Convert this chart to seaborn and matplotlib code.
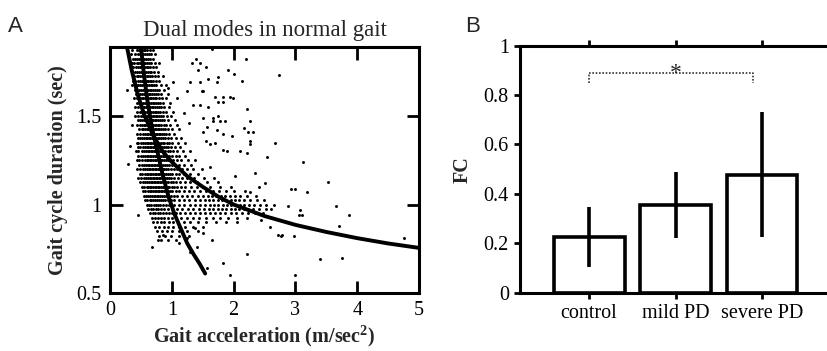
import matplotlib
matplotlib.use("Agg")
import matplotlib.pyplot as plt
import pandas as pd
import seaborn as sns

# ---- panel A: gait data ----
# dense core, one row of dots per quantised cycle duration
core_y = [1.875, 1.85, 1.825, 1.80, 1.775, 1.75, 1.725, 1.70, 1.675, 1.65,
          1.625, 1.60, 1.575, 1.55, 1.525, 1.50, 1.475, 1.45, 1.425, 1.40,
          1.375, 1.35, 1.325, 1.30, 1.275, 1.25, 1.225, 1.20, 1.175, 1.15,
          1.125, 1.10, 1.075, 1.05, 1.025, 1.00, 0.975, 0.95, 0.925, 0.90,
          0.875, 0.85, 0.825, 0.80]
core_x = [
    [0.36, 0.43, 0.47, 0.50, 0.52, 0.55, 0.57, 0.60, 0.64, 0.69],
    [0.34, 0.41, 0.45, 0.49, 0.52, 0.54, 0.57, 0.60, 0.63, 0.67, 0.73],
    [0.37, 0.40, 0.44, 0.47, 0.50, 0.53, 0.55, 0.58, 0.61, 0.65, 0.70],
    [0.35, 0.39, 0.43, 0.46, 0.49, 0.52, 0.55, 0.57, 0.60, 0.63, 0.66, 0.72, 0.80],
    [0.37, 0.42, 0.45, 0.48, 0.51, 0.53, 0.56, 0.59, 0.62, 0.65, 0.69, 0.75],
    [0.36, 0.40, 0.44, 0.47, 0.50, 0.52, 0.55, 0.58, 0.61, 0.64, 0.67, 0.71, 0.78],
    [0.38, 0.43, 0.46, 0.49, 0.52, 0.54, 0.57, 0.60, 0.62, 0.65, 0.68, 0.72, 0.77, 0.86],
    [0.37, 0.41, 0.45, 0.48, 0.51, 0.53, 0.56, 0.59, 0.61, 0.64, 0.67, 0.70, 0.74, 0.80],
    [0.36, 0.42, 0.46, 0.49, 0.52, 0.55, 0.57, 0.60, 0.63, 0.66, 0.68, 0.71, 0.75, 0.82, 0.91],
    [0.40, 0.44, 0.47, 0.50, 0.53, 0.56, 0.58, 0.61, 0.64, 0.66, 0.69, 0.72, 0.76, 0.80, 0.87],
    [0.42, 0.46, 0.49, 0.52, 0.55, 0.58, 0.60, 0.63, 0.65, 0.68, 0.71, 0.74, 0.78, 0.83, 0.93],
    [0.39, 0.44, 0.48, 0.51, 0.54, 0.57, 0.59, 0.62, 0.64, 0.67, 0.70, 0.72, 0.75, 0.79, 0.84, 0.90],
    [0.43, 0.47, 0.50, 0.53, 0.56, 0.58, 0.61, 0.63, 0.66, 0.69, 0.71, 0.74, 0.77, 0.81, 0.86, 0.97],
    [0.41, 0.46, 0.50, 0.53, 0.55, 0.58, 0.60, 0.63, 0.65, 0.68, 0.70, 0.73, 0.76, 0.79, 0.83, 0.88, 0.95],
    [0.44, 0.48, 0.52, 0.55, 0.57, 0.60, 0.62, 0.65, 0.67, 0.70, 0.72, 0.75, 0.78, 0.81, 0.85, 0.91, 1.02],
    [0.40, 0.46, 0.50, 0.53, 0.56, 0.59, 0.61, 0.64, 0.66, 0.69, 0.71, 0.74, 0.76, 0.79, 0.82, 0.86, 0.92, 0.99],
    [0.45, 0.49, 0.52, 0.55, 0.58, 0.60, 0.63, 0.65, 0.68, 0.70, 0.73, 0.75, 0.78, 0.81, 0.84, 0.88, 0.94, 1.05],
    [0.43, 0.48, 0.52, 0.55, 0.57, 0.60, 0.62, 0.65, 0.67, 0.70, 0.72, 0.75, 0.77, 0.80, 0.83, 0.87, 0.91, 0.97, 1.08],
    [0.47, 0.51, 0.54, 0.57, 0.59, 0.62, 0.64, 0.67, 0.69, 0.72, 0.74, 0.77, 0.79, 0.82, 0.85, 0.89, 0.94, 1.01, 1.12],
    [0.44, 0.49, 0.53, 0.56, 0.59, 0.61, 0.64, 0.66, 0.69, 0.71, 0.74, 0.76, 0.79, 0.81, 0.84, 0.87, 0.91, 0.96, 1.04],
    [0.45, 0.48, 0.52, 0.55, 0.58, 0.60, 0.63, 0.65, 0.68, 0.70, 0.73, 0.75, 0.78, 0.80, 0.83, 0.86, 0.89, 0.93, 0.98, 1.06, 1.15],
    [0.43, 0.46, 0.50, 0.54, 0.57, 0.60, 0.62, 0.65, 0.67, 0.70, 0.72, 0.75, 0.77, 0.80, 0.82, 0.85, 0.88, 0.92, 0.96, 1.01, 1.10, 1.22],
    [0.45, 0.49, 0.53, 0.56, 0.59, 0.61, 0.64, 0.66, 0.69, 0.71, 0.74, 0.76, 0.79, 0.81, 0.84, 0.87, 0.90, 0.94, 0.99, 1.05, 1.13],
    [0.42, 0.45, 0.51, 0.55, 0.58, 0.61, 0.63, 0.66, 0.68, 0.71, 0.73, 0.76, 0.78, 0.81, 0.83, 0.86, 0.89, 0.93, 0.97, 1.02, 1.08, 1.18, 1.30],
    [0.46, 0.50, 0.54, 0.57, 0.60, 0.62, 0.65, 0.67, 0.70, 0.72, 0.75, 0.77, 0.80, 0.82, 0.85, 0.88, 0.91, 0.95, 1.00, 1.06, 1.12, 1.22],
    [0.44, 0.47, 0.52, 0.56, 0.59, 0.62, 0.64, 0.67, 0.69, 0.72, 0.74, 0.77, 0.79, 0.82, 0.84, 0.87, 0.90, 0.93, 0.97, 1.02, 1.08, 1.15, 1.26, 1.38],
    [0.47, 0.51, 0.55, 0.58, 0.61, 0.63, 0.66, 0.68, 0.71, 0.73, 0.76, 0.78, 0.81, 0.83, 0.86, 0.89, 0.92, 0.96, 1.00, 1.05, 1.11, 1.19, 1.31],
    [0.44, 0.48, 0.53, 0.57, 0.60, 0.63, 0.65, 0.68, 0.70, 0.73, 0.75, 0.78, 0.80, 0.83, 0.85, 0.88, 0.91, 0.94, 0.98, 1.03, 1.09, 1.16, 1.24, 1.35, 1.48],
    [0.48, 0.52, 0.56, 0.59, 0.62, 0.64, 0.67, 0.69, 0.72, 0.74, 0.77, 0.79, 0.82, 0.84, 0.87, 0.90, 0.93, 0.97, 1.01, 1.06, 1.12, 1.20, 1.29, 1.42],
    [0.46, 0.50, 0.55, 0.58, 0.61, 0.64, 0.66, 0.69, 0.71, 0.74, 0.76, 0.79, 0.81, 0.84, 0.86, 0.89, 0.92, 0.95, 0.99, 1.04, 1.10, 1.17, 1.25, 1.36, 1.52, 1.68],
    [0.49, 0.53, 0.57, 0.60, 0.63, 0.66, 0.68, 0.71, 0.73, 0.76, 0.78, 0.81, 0.83, 0.86, 0.88, 0.91, 0.94, 0.98, 1.02, 1.07, 1.13, 1.21, 1.30, 1.41, 1.57, 1.75],
    [0.51, 0.55, 0.59, 0.62, 0.65, 0.67, 0.70, 0.72, 0.75, 0.77, 0.80, 0.82, 0.85, 0.87, 0.90, 0.93, 0.96, 1.00, 1.04, 1.09, 1.15, 1.22, 1.31, 1.40, 1.50, 1.62, 1.78, 1.95],
    [0.53, 0.57, 0.61, 0.64, 0.67, 0.69, 0.72, 0.74, 0.77, 0.79, 0.82, 0.84, 0.87, 0.90, 0.93, 0.97, 1.01, 1.06, 1.12, 1.19, 1.27, 1.36, 1.46, 1.56, 1.66, 1.77, 1.88, 2.01, 2.18],
    [0.55, 0.58, 0.62, 0.65, 0.68, 0.71, 0.73, 0.76, 0.78, 0.81, 0.84, 0.87, 0.90, 0.94, 0.98, 1.03, 1.09, 1.16, 1.24, 1.33, 1.42, 1.50, 1.58, 1.65, 1.72, 1.79, 1.86, 1.94, 2.02, 2.11, 2.22, 2.36],
    [0.57, 0.60, 0.64, 0.67, 0.70, 0.73, 0.76, 0.79, 0.82, 0.85, 0.89, 0.93, 0.98, 1.04, 1.11, 1.19, 1.28, 1.37, 1.45, 1.53, 1.60, 1.67, 1.74, 1.81, 1.88, 1.95, 2.02, 2.09, 2.17, 2.26, 2.37, 2.49],
    [0.59, 0.63, 0.67, 0.71, 0.74, 0.78, 0.81, 0.85, 0.90, 0.96, 1.03, 1.11, 1.20, 1.29, 1.38, 1.46, 1.54, 1.61, 1.68, 1.75, 1.82, 1.89, 1.96, 2.03, 2.10, 2.17, 2.25, 2.33, 2.42, 2.53, 2.66],
    [0.62, 0.66, 0.70, 0.74, 0.78, 0.82, 0.87, 0.93, 1.00, 1.08, 1.17, 1.26, 1.35, 1.44, 1.52, 1.60, 1.67, 1.74, 1.81, 1.88, 1.95, 2.02, 2.09, 2.16, 2.24, 2.32, 2.41, 2.52, 2.61],
    [0.65, 0.69, 0.73, 0.77, 0.81, 0.85, 0.90, 0.95, 1.01, 1.07, 1.14, 1.22, 1.30, 1.38, 1.46, 1.54, 1.62, 1.70, 1.78, 1.86, 1.95, 2.04, 2.13, 2.23, 2.34, 2.47],
    [0.68, 0.73, 0.78, 0.83, 0.88, 0.94, 1.00, 1.07, 1.15, 1.24, 1.34, 1.44, 1.55, 1.66, 1.78, 1.91, 2.05, 2.22],
    [0.70, 0.76, 0.82, 0.88, 0.95, 1.02, 1.10, 1.19, 1.30, 1.42, 1.56, 1.71, 1.88],
    [0.73, 0.80, 0.87, 0.94, 1.02, 1.11, 1.22, 1.35, 1.50],
    [0.76, 0.84, 0.92, 1.01, 1.11, 1.24, 1.42],
    [0.79, 0.89, 0.99, 1.11, 1.27],
    [0.83, 0.94, 1.07],
]

# scattered outliers
sparse_x = [1.65, 2.20, 1.39, 1.32, 1.46, 1.56, 1.91, 2.01, 2.74, 1.43, 1.75, 1.59,
            1.02, 1.30, 1.46, 1.73, 2.14, 0.94, 1.25, 1.49, 1.51, 1.70, 1.82, 1.94,
            1.99, 1.35, 1.46, 1.59, 1.75, 1.83, 2.22, 1.51, 1.67, 1.75, 2.27, 1.57,
            1.67, 1.78, 1.86, 2.16, 2.24, 2.32, 1.51, 1.73, 1.83, 1.98, 1.56, 1.62,
            1.70, 2.27, 2.27, 2.67, 1.83, 1.90, 2.11, 2.22, 3.13, 3.53, 3.66, 3.86,
            3.71, 4.75, 3.40, 3.76, 2.22, 1.82, 2.59, 2.76, 2.97, 2.54, 3.00, 3.18,
            3.08, 3.05, 2.88, 2.41, 2.27, 1.94, 3.00, 0.68, 0.45, 0.28, 0.29, 1.57,
            0.78, 0.86, 1.25, 1.41, 1.51, 1.65, 1.30, 2.71, 2.79, 2.92, 3.11, 1.12,
            1.38, 2.05, 2.45, 0.35, 0.33, 1.20, 1.08, 1.28, 1.62, 2.02, 2.35, 2.50]
sparse_y = [1.88, 1.82, 1.82, 1.80, 1.80, 1.78, 1.76, 1.74, 1.73, 1.76, 1.72, 1.71,
            1.69, 1.69, 1.69, 1.69, 1.70, 1.66, 1.64, 1.64, 1.64, 1.61, 1.61, 1.61,
            1.60, 1.56, 1.56, 1.55, 1.58, 1.58, 1.54, 1.49, 1.49, 1.50, 1.47, 1.44,
            1.47, 1.47, 1.47, 1.43, 1.41, 1.41, 1.41, 1.42, 1.40, 1.39, 1.36, 1.34,
            1.35, 1.36, 1.34, 1.35, 1.31, 1.30, 1.30, 1.29, 1.24, 1.125, 0.99, 0.94,
            0.88, 0.81, 0.69, 0.70, 0.72, 0.67, 0.875, 0.82, 0.82, 1.27, 1.085, 1.07,
            0.97, 0.94, 0.99, 1.10, 1.07, 0.60, 0.60, 0.76, 0.94, 1.65, 1.23, 0.64,
            0.80, 0.83, 0.81, 0.76, 0.84, 0.80, 0.73, 0.83, 0.83, 1.085, 0.94, 0.78,
            0.87, 0.90, 0.91, 1.45, 1.33, 1.52, 1.60, 1.46, 1.21, 1.16, 1.18, 1.12]

# fitted curves
fit1_x = [0.28, 0.35, 0.45, 0.55, 0.70, 0.85, 1.00, 1.25, 1.50, 1.75, 2.00,
          2.50, 3.00, 3.50, 4.00, 4.50, 5.00]
fit1_y = [1.88, 1.76, 1.62, 1.51, 1.39, 1.30, 1.24, 1.16, 1.10, 1.045, 1.00,
          0.935, 0.885, 0.845, 0.81, 0.78, 0.755]
fit2_x = [0.50, 0.55, 0.60, 0.65, 0.70, 0.76, 0.85, 0.95, 1.05, 1.15, 1.25,
          1.35, 1.45, 1.54]
fit2_y = [1.89, 1.73, 1.60, 1.49, 1.40, 1.31, 1.17, 1.04, 0.94, 0.86, 0.78,
          0.72, 0.665, 0.61]

# ---- panel B: FC per group ----
groups = ["control", "mild PD", "severe PD"]
fc_mean = [0.225, 0.355, 0.478]
fc_err = [0.12, 0.133, 0.252]

sns.set_theme(style="ticks")
plt.rcParams["font.family"] = ["Liberation Serif", "DejaVu Serif"]
plt.rcParams["mathtext.fontset"] = "custom"
plt.rcParams["mathtext.rm"] = "Liberation Serif"
plt.rcParams["mathtext.bf"] = "Liberation Serif:bold"

dots = pd.DataFrame({
    "x": [x for xs in core_x for x in xs] + sparse_x,
    "y": [y for y, xs in zip(core_y, core_x) for _ in xs] + sparse_y,
})

fig = plt.figure(figsize=(8.28, 3.51), dpi=100)
ax1 = fig.add_axes([0.1329, 0.1652, 0.3732, 0.7008])
ax2 = fig.add_axes([0.628, 0.1664, 0.3757, 0.7036])

# panel A
sns.scatterplot(data=dots, x="x", y="y", ax=ax1, color="black", s=4.5,
                marker="o", linewidth=0, zorder=2)
sns.lineplot(x=fit1_x, y=fit1_y, ax=ax1, color="black", lw=2.8,
             estimator=None, sort=False, zorder=3)
sns.lineplot(x=fit2_x, y=fit2_y, ax=ax1, color="black", lw=2.8,
             estimator=None, sort=False, zorder=3)
ax1.set_xlim(0, 5)
ax1.set_ylim(0.5, 1.89)
ax1.set_xticks([0, 1, 2, 3, 4, 5])
ax1.set_yticks([0.5, 1, 1.5])
ax1.set_yticklabels(["0.5", "1", "1.5"])
ax1.tick_params(direction="in", length=9, width=2, top=True, right=True,
                labelsize=14.5, colors="black", pad=6)
ax1.set_xlabel(r"Gait acceleration (m/sec$^\mathbf{2}$)", fontsize=14.5,
               fontweight="bold", labelpad=2)
ax1.set_ylabel("Gait cycle duration (sec)", fontsize=14.5, fontweight="bold",
               labelpad=6)
ax1.set_title("Dual modes in normal gait", fontsize=16.5, pad=8)

# panel B
sns.barplot(x=groups, y=fc_mean, ax=ax2, color="white", edgecolor="black",
            linewidth=2.6, width=0.82, saturation=1, errorbar=None)
ax2.errorbar(x=range(len(groups)), y=fc_mean, yerr=fc_err, fmt="none",
             ecolor="black", elinewidth=2.6, capsize=0)
ax2.set_xlim(-0.8, 2.8)
ax2.set_ylim(0, 1)
ax2.set_yticks([0, 0.2, 0.4, 0.6, 0.8, 1])
ax2.set_yticklabels(["0", "0.2", "0.4", "0.6", "0.8", "1"])
ax2.tick_params(direction="out", length=4, width=2, top=True, right=True,
                labelsize=14.5, colors="black", pad=4)
ax2.set_ylabel("FC", fontsize=14.5, fontweight="bold", labelpad=8)
ax2.set_xlabel("")
ax2.plot([0, 0, 1.9, 1.9], [0.85, 0.89, 0.89, 0.85], color="#333333",
         lw=1.2, linestyle=(0, (1, 1)))
ax2.text(1, 0.863, "*", fontsize=17, ha="center", va="baseline")

for ax in (ax1, ax2):
    for sp in ax.spines.values():
        sp.set_visible(True)
        sp.set_linewidth(2.2)
        sp.set_color("black")

fig.text(0.0097, 0.909, "A", fontsize=16, family="Liberation Sans",
         va="baseline")
fig.text(0.5616, 0.909, "B", fontsize=16, family="Liberation Sans",
         va="baseline")

fig.savefig("out.png", dpi=100)
